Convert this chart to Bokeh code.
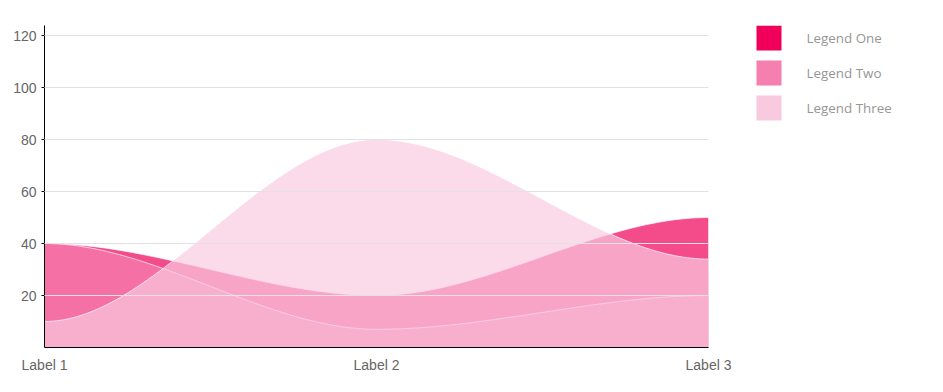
import numpy as np
from bokeh.plotting import figure
from bokeh.models import Range1d, FixedTicker, ColumnDataSource
from bokeh.layouts import row
from bokeh.embed import file_html
from bokeh.resources import INLINE
from bokeh.core.properties import value

# ---- data ----
labels = ["Label 1", "Label 2", "Label 3"]
legend_one = [40, 20, 50]
legend_two = [40, 7, 20]
legend_three = [10, 80, 34]
series_names = ["Legend One", "Legend Two", "Legend Three"]
series_colors = ["#f0005a", "#f580b0", "#f9cadf"]
y_ticks = [20, 40, 60, 80, 100, 120]


def smooth(vals, n=80):
    """Smooth curve through the data points (horizontal tangents at each point)."""
    xs, ys = [], []
    for i in range(len(vals) - 1):
        t = np.linspace(0, 1, n, endpoint=(i == len(vals) - 2))
        s = 3 * t ** 2 - 2 * t ** 3
        xs.append(i + t)
        ys.append(vals[i] + (vals[i + 1] - vals[i]) * s)
    return np.concatenate(xs), np.concatenate(ys)


p = figure(width=740, height=392, x_range=Range1d(0, 2), y_range=Range1d(0, 123.85),
           output_backend="svg", toolbar_location=None,
           min_border_left=44, min_border_right=32, min_border_top=25, min_border_bottom=45)
p.outline_line_color = None

for vals, color in zip([legend_one, legend_two, legend_three], series_colors):
    xs, ys = smooth(vals)
    src = ColumnDataSource(dict(x=xs, y=ys, y0=np.zeros_like(ys)))
    p.varea(x="x", y1="y0", y2="y", source=src, fill_color=color, fill_alpha=0.7)
    p.line(x="x", y="y", source=src, line_color="white", line_alpha=0.7, line_width=1)

# axes
p.xaxis.ticker = FixedTicker(ticks=list(range(len(labels))))
p.xaxis.major_label_overrides = {i: lab for i, lab in enumerate(labels)}
p.xaxis.major_tick_out = 0
p.xaxis.major_tick_in = 0
p.xaxis.minor_tick_out = 0
p.xaxis.minor_tick_in = 0
p.xaxis.major_label_standoff = 9

p.yaxis.ticker = FixedTicker(ticks=y_ticks)
p.yaxis.major_tick_out = 3
p.yaxis.major_tick_in = 0
p.yaxis.minor_tick_out = 0
p.yaxis.minor_tick_in = 0
p.yaxis.major_label_standoff = 5

for ax in (p.xaxis, p.yaxis):
    ax.axis_line_color = "black"
    ax.major_tick_line_color = "black"
    ax.major_label_text_color = "#666666"
    ax.major_label_text_font = "Liberation Sans"
    ax.major_label_text_font_size = "14px"

p.xgrid.visible = False
p.ygrid.ticker = FixedTicker(ticks=y_ticks)
p.ygrid.grid_line_color = "#e2e2e2"
p.ygrid.level = "overlay"

# ---- legend panel (frame aligned with the main plot: page y 25..347) ----
lg = figure(width=203, height=392, x_range=Range1d(0, 203), y_range=Range1d(347, 25),
            output_backend="svg", toolbar_location=None,
            min_border_left=0, min_border_right=0, min_border_top=25, min_border_bottom=45,
            x_axis_location=None, y_axis_location=None)
lg.outline_line_color = None
lg.grid.visible = False
n = len(series_names)
ly = [37.5 + 35 * i for i in range(n)]
lg.rect(x=[28.5] * n, y=ly, width=25, height=25, fill_color=series_colors, line_color=None)
lg.text(x=[66] * n, y=ly, text=series_names, text_baseline="middle", text_align="left",
        text_font=value("Open Sans"), text_font_size="13.4px", text_color="#969696")

layout = row(p, lg)
open("out.html", "w").write(file_html(layout, INLINE))
